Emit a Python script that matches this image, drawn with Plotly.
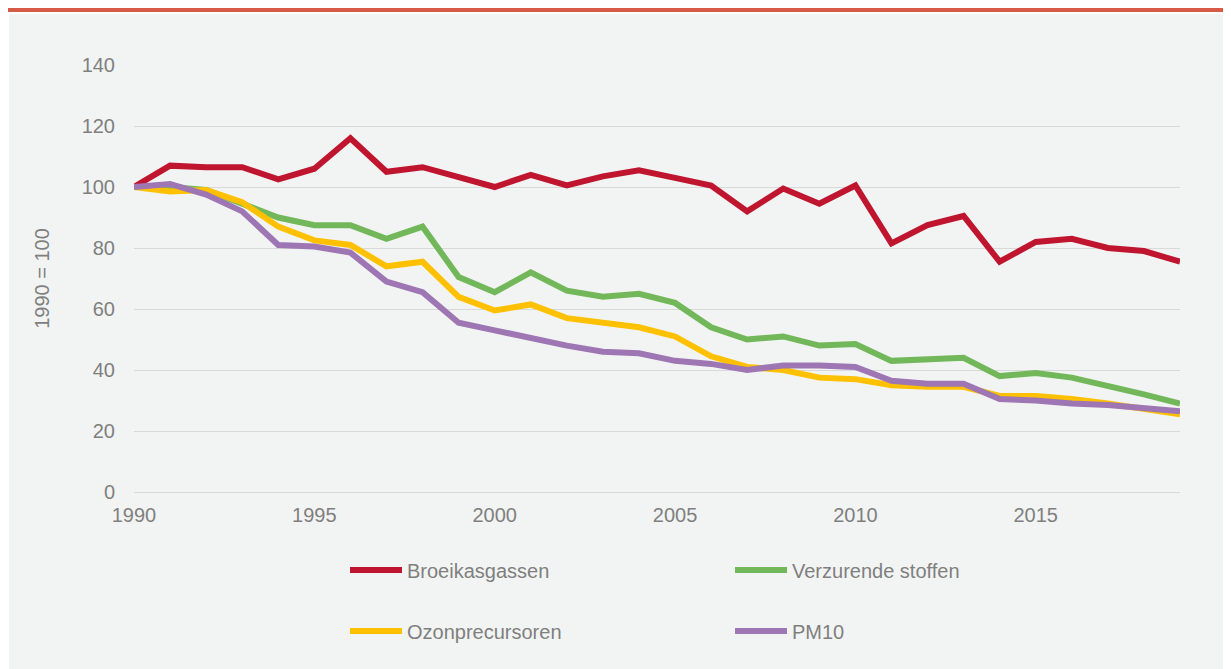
import plotly.graph_objects as go

years = list(range(1990, 2020))

broeikasgassen = [100, 107, 106.5, 106.5, 102.5, 106, 116, 105, 106.5, 103.5,
                  100, 104, 100.5, 103.5, 105.5, 103, 100.5, 92, 99.5, 94.5,
                  100.5, 81.5, 87.5, 90.5, 75.5, 82, 83, 80, 79, 75.5]
verzurende = [100, 100, 99, 94.5, 90, 87.5, 87.5, 83, 87, 70.5,
              65.5, 72, 66, 64, 65, 62, 54, 50, 51, 48,
              48.5, 43, 43.5, 44, 38, 39, 37.5, 35, 32, 29]
ozonprecursoren = [100, 98.5, 99, 95, 87, 82.5, 81, 74, 75.5, 64,
                   59.5, 61.5, 57, 55.5, 54, 51, 44.5, 41, 40, 37.5,
                   37, 35, 34.5, 34.5, 31.5, 31.5, 30.5, 29, 27, 25.5]
pm10 = [100, 101, 97.5, 92, 81, 80.5, 78.5, 69, 65.5, 55.5,
        53, 50.5, 48, 46, 45.5, 43, 42, 40, 41.5, 41.5,
        41, 36.5, 35.5, 35.5, 30.5, 30, 29, 28.5, 27.5, 26.5]

series = [
    ('Broeikasgassen', broeikasgassen, '#C0152F', 'legend'),
    ('Verzurende stoffen', verzurende, '#72B85A', 'legend'),
    ('Ozonprecursoren', ozonprecursoren, '#FFC000', 'legend2'),
    ('PM10', pm10, '#9E76B4', 'legend2'),
]

GRAY = '#7F7F7F'
PANEL = '#F2F4F3'
FONT = 'Liberation Sans, Arial, sans-serif'

fig = go.Figure()
for name, vals, col, leg in series:
    fig.add_trace(go.Scatter(x=years, y=vals, name=name, mode='lines',
                             line=dict(color=col, width=6),
                             legend=leg))

# page body has an 8px margin; plot area on screen x 134..1180, y 65..492
OFF = 8
L, T = 134 - OFF, 65 - OFF
pw, ph = 1046, 427
W, H = 1231, 669
R, B = W - L - pw, H - T - ph

def px_x(p): return (p - OFF - L) / pw
def px_y(p): return (T + ph - (p - OFF)) / ph

# grey panel and red rule at the top
fig.add_shape(type='rect', xref='paper', yref='paper', layer='below',
              x0=px_x(9), x1=px_x(W + 20), y0=px_y(H + 20), y1=px_y(14),
              fillcolor=PANEL, line_width=0)
fig.add_shape(type='rect', xref='paper', yref='paper', layer='below',
              x0=px_x(5), x1=px_x(W + 20), y0=px_y(12), y1=px_y(8),
              fillcolor='#D65A45', line_width=0)

leg_common = dict(orientation='h', xref='paper', yref='paper',
                  xanchor='left', yanchor='middle',
                  font=dict(family=FONT, size=20, color=GRAY),
                  bgcolor='rgba(0,0,0,0)', entrywidth=318,
                  entrywidthmode='pixels', itemwidth=52, traceorder='normal')

fig.update_layout(
    width=W, height=H,
    margin=dict(l=L, r=R, t=T, b=B),
    paper_bgcolor='white', plot_bgcolor=PANEL,
    font=dict(family=FONT, size=20, color=GRAY),
    xaxis=dict(range=[1990, 2019], tickvals=[1990, 1995, 2000, 2005, 2010, 2015],
               showgrid=False, showline=True, linecolor='#D9D9D9', linewidth=1,
               ticks='', tickfont=dict(size=20, color=GRAY), ticklabelstandoff=5,
               zeroline=False),
    yaxis=dict(range=[0, 140], dtick=20, showgrid=True, gridcolor='#D9D9D9',
               gridwidth=1, zeroline=False, showline=False, ticks='',
               tickfont=dict(size=20, color=GRAY), ticklabelstandoff=18,
               title=dict(text='1990 = 100', font=dict(size=20, color=GRAY),
                          standoff=26)),
    legend=dict(x=px_x(345), y=px_y(570), **leg_common),
    legend2=dict(x=px_x(345), y=px_y(631), **leg_common),
    showlegend=True,
)

fig.write_html('out.html')
